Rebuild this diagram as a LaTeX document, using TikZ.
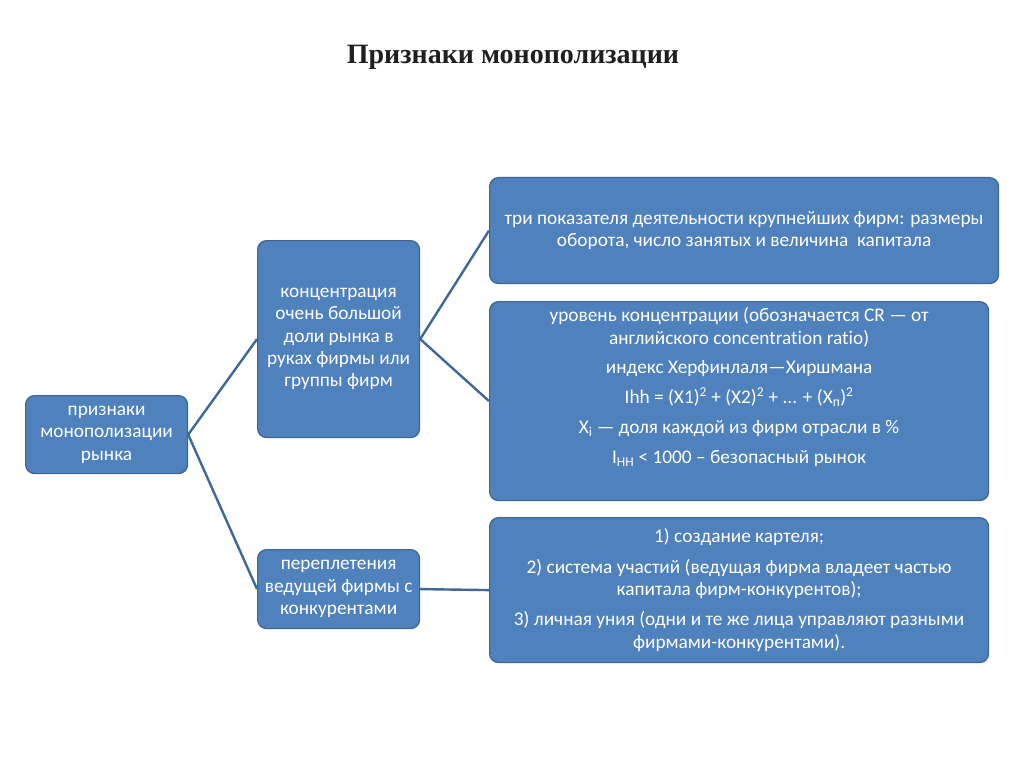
\documentclass[tikz,border=0pt]{standalone}
\usepackage{fontspec}
\setmainfont{Carlito}[Ligatures=NoCommon]
\newfontfamily\titlefont{Liberation Serif}
\definecolor{boxfill}{HTML}{4F81BD}
\definecolor{boxline}{HTML}{3B6594}
\definecolor{conn}{HTML}{3F6799}
\tikzset{
  box/.style={draw=boxline, line width=1.2pt, fill=boxfill, rounded corners=9pt,
    anchor=north west, inner sep=0pt, text=white, align=center,
    font=\fontsize{19.3}{22.3}\selectfont},
  txt/.style={text=white, align=center, inner sep=0pt,
    font=\fontsize{19.3}{22.3}\selectfont},
  link/.style={draw=conn, line width=2.4pt}
}
\begin{document}
\begin{tikzpicture}[x=1pt,y=-1pt]
\useasboundingbox (0,0) rectangle (1024,767);
\node[font=\titlefont\bfseries\fontsize{28}{32}\selectfont, text=black!88] (title) at (513,57) {Признаки монополизации};

\node[box, minimum width=162pt, minimum height=78pt] (A) at (25,395)
  {признаки\\монополизации\\рынка};
\node[box, minimum width=162pt, minimum height=197pt] (B) at (257,240)
  {концентрация\\очень большой\\доли рынка в\\руках фирмы или\\группы фирм};
\node[box, minimum width=162pt, minimum height=79pt] (C) at (257,549)
  {переплетения\\ведущей фирмы с\\конкурентами};
\node[box, minimum width=509pt, minimum height=106pt] (D) at (489,177)
  {три показателя деятельности крупнейших фирм: размеры\\оборота, число занятых и величина\ \ капитала};
\node[box, minimum width=499pt, minimum height=199pt] (E) at (489,301) {};
\node[txt] (Et) at ([yshift=14pt]E.center)
  {уровень концентрации (обозначается CR — от\\английского concentration ratio)\\[7.5pt]
   индекс Херфинлаля—Хиршмана\\[7.5pt]
   Ihh = (X1)\textsuperscript{2} + (X2)\textsuperscript{2} + ... + (X\textsubscript{п})\textsuperscript{2}\\[7.5pt]
   X\textsubscript{i} — доля каждой из фирм отрасли в \%\\[7.5pt]
   I\textsubscript{НН} < 1000 – безопасный рынок};
\node[box, minimum width=499pt, minimum height=145pt] (F) at (489,517)
  {1) создание картеля;\\[8pt]
   2) система участий (ведущая фирма владеет частью\\капитала фирм-конкурентов);\\[8pt]
   3) личная уния (одни и те же лица управляют разными\\фирмами-конкурентами).};

\draw[link] (A.east) -- (B.west);
\draw[link] (A.east) -- (C.west);
\draw[link] (B.east) -- (D.west);
\draw[link] (B.east) -- (E.west);
\draw[link] (C.east) -- (F.west);
\end{tikzpicture}
\end{document}
